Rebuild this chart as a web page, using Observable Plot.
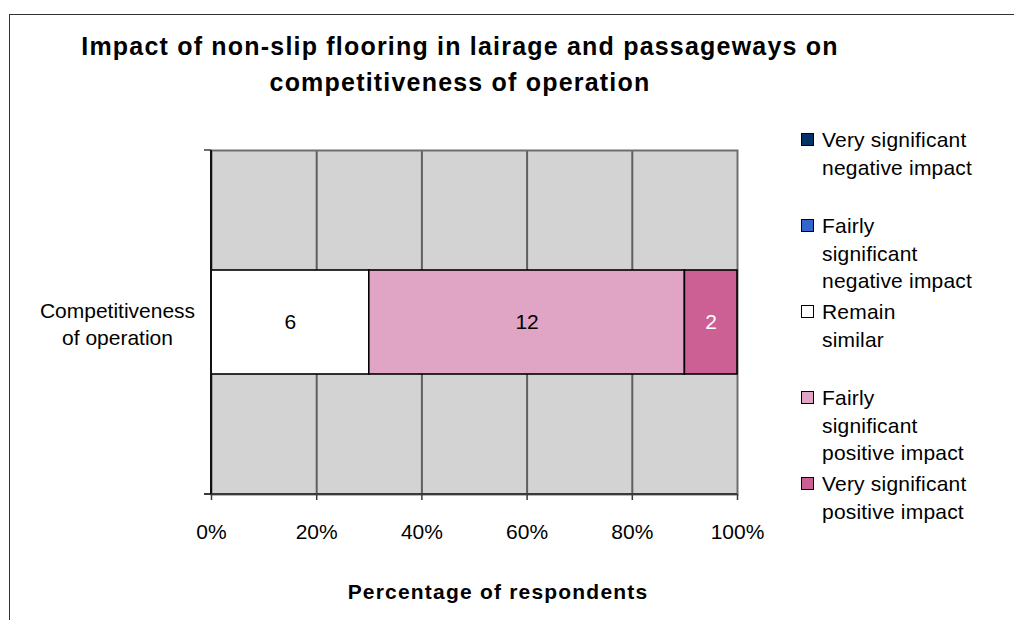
<!DOCTYPE html>
<html>
<head>
<meta charset="utf-8">
<script src="https://cdn.jsdelivr.net/npm/d3@7"></script>
<script src="https://cdn.jsdelivr.net/npm/@observablehq/plot@0.6"></script>
<style>
  html, body { margin: 0; padding: 0; background: #fff; overflow: hidden; }
  #wrap { position: relative; width: 1014px; height: 620px; overflow: hidden;
          font-family: "Liberation Sans", Arial, sans-serif; color: #000; }
  #border { position: absolute; left: 9px; top: 14px; width: 1100px; height: 700px;
            border-left: 1.5px solid #333; border-top: 1.5px solid #333; }
  #title { position: absolute; left: 10px; width: 900px; top: 28px; text-align: center;
           font-weight: bold; font-size: 25px; letter-spacing: 1.2px; line-height: 36px; white-space: pre-line; }
  #chart { position: absolute; left: 0; top: 0; }
  #xtitle { position: absolute; left: 298px; width: 400px; top: 579px; text-align: center;
            font-weight: bold; font-size: 21px; letter-spacing: 1.2px; line-height: 26px; }
  #legend { position: absolute; left: 801px; top: 126px; }
  .entry { position: relative; height: 86.1px; }
  .swatch { position: absolute; left: 0; top: 7px; width: 11px; height: 11px; border: 1px solid #000; }
  .label { position: absolute; left: 21px; top: 0; font-size: 21px; line-height: 27.5px; white-space: pre; letter-spacing: 0.2px; }
</style>
</head>
<body>
<div id="wrap">
  <div id="border"></div>
  <div id="chart"></div>
  <div id="title"></div>
  <div id="xtitle"></div>
  <div id="legend"></div>
</div>
<script>
// ---- data ----
const titleLines = ["Impact of non-slip flooring in lairage and passageways on", "competitiveness of operation"];
const xAxisTitle = "Percentage of respondents";
const categories = ["Competitiveness of operation"];
const seriesNames = [
  "Very significant negative impact",
  "Fairly significant negative impact",
  "Remain similar",
  "Fairly significant positive impact",
  "Very significant positive impact"
];
const legendLabels = [
  "Very significant\nnegative impact",
  "Fairly\nsignificant\nnegative impact",
  "Remain\nsimilar",
  "Fairly\nsignificant\npositive impact",
  "Very significant\npositive impact"
];
const counts = [0, 0, 6, 12, 2];
const seriesColors = ["#003366", "#3366CC", "#FFFFFF", "#E0A4C4", "#CC6094"];
const labelColors = ["#FFFFFF", "#FFFFFF", "#000000", "#000000", "#FFFFFF"];
const xTicks = [0, 20, 40, 60, 80, 100];

// ---- table built from the arrays ----
const data = seriesNames.map((s, i) => ({
  category: categories[0], series: s, count: counts[i],
  color: seriesColors[i], labelColor: labelColors[i]
})).filter(d => d.count > 0);

document.getElementById("title").textContent = titleLines.join("\n");
document.getElementById("xtitle").textContent = xAxisTitle;

const legend = document.getElementById("legend");
seriesNames.forEach((s, i) => {
  const e = document.createElement("div");
  e.className = "entry";
  const sw = document.createElement("div");
  sw.className = "swatch";
  sw.style.background = seriesColors[i];
  const lb = document.createElement("div");
  lb.className = "label";
  lb.textContent = legendLabels[i];
  e.appendChild(sw); e.appendChild(lb);
  legend.appendChild(e);
});

// axis lines + category edge ticks drawn from the plot's own dimensions
function axisLines(index, scales, values, dims) {
  const g = d3.create("svg:g");
  const x0 = dims.marginLeft, x1 = dims.width - dims.marginRight;
  const y0 = dims.marginTop, y1 = dims.height - dims.marginBottom;
  g.append("line").attr("x1", x0 - 7).attr("x2", x0).attr("y1", y0).attr("y2", y0)
    .attr("stroke", "#6e6e6e").attr("stroke-width", 2);
  g.append("line").attr("x1", x0 - 7).attr("x2", x1).attr("y1", y1).attr("y2", y1)
    .attr("stroke", "#3a3a3a").attr("stroke-width", 2);
  g.append("line").attr("x1", x0).attr("x2", x0).attr("y1", y0).attr("y2", y1)
    .attr("stroke", "#111").attr("stroke-width", 2);
  return g.node();
}

const chart = Plot.plot({
  width: 1014,
  height: 620,
  marginLeft: 211,
  marginRight: 277,
  marginTop: 150,
  marginBottom: 126,
  style: { fontFamily: "'Liberation Sans', Arial, sans-serif", fontSize: "21px", background: "transparent", color: "#000" },
  x: { domain: [0, 100], percent: true, label: null },
  y: { domain: categories, padding: 0.535, label: null },
  color: { type: "identity" },
  marks: [
    Plot.frame({ fill: "#D3D3D3" }),
    Plot.ruleX(xTicks.slice(1, -1), { x: d => d / 100, stroke: "#5f5f5f", strokeWidth: 2 }),
    Plot.frame({ stroke: "#6e6e6e", strokeWidth: 2 }),
    Plot.barX(data, Plot.stackX({
      x: "count", y: "category", fill: "color", offset: "normalize",
      stroke: "#000", strokeWidth: 1.6
    })),
    Plot.text(data, Plot.stackX({
      x: "count", y: "category", text: d => String(d.count), offset: "normalize",
      fill: "labelColor", fontSize: 21
    })),
    axisLines,
    Plot.axisX({
      ticks: xTicks, tickFormat: d => d + "%", tickSize: 6, tickPadding: 24,
      fontSize: 21, stroke: "#3a3a3a", strokeWidth: 1.5, label: null
    }),
    Plot.axisY({
      tickSize: 0, tickPadding: 94, textAnchor: "middle", fontSize: 21, lineHeight: 1.3,
      tickFormat: d => d.replace(" of ", "\nof "), label: null
    })
  ]
});
document.getElementById("chart").appendChild(chart);
</script>
</body>
</html>
